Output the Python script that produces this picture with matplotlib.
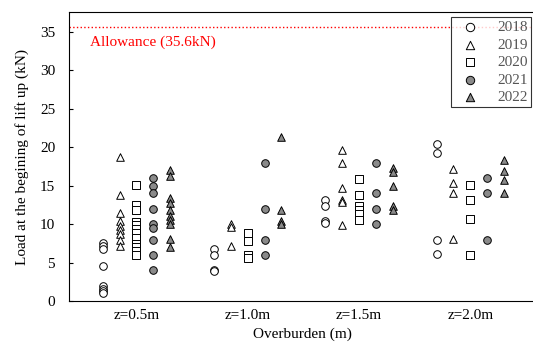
import matplotlib
matplotlib.use("Agg")
import matplotlib.pyplot as plt

plt.rcParams['font.family'] = ['Liberation Serif', 'DejaVu Serif']

groups = ["z=0.5m", "z=1.0m", "z=1.5m", "z=2.0m"]
years = ["2018", "2019", "2020", "2021", "2022"]

# load at beginning of lift up (kN), per year, per overburden depth
y2018 = [[7.6, 7.2, 6.8, 4.6, 2.0, 1.6, 1.3, 1.0],
         [6.8, 6.0, 4.0, 3.9],
         [13.2, 12.3, 10.4, 10.1],
         [20.4, 19.2, 8.0, 6.1]]
y2019 = [[18.7, 13.8, 11.4, 10.4, 9.8, 9.2, 8.7, 8.0, 7.2],
         [10.0, 9.6, 7.2],
         [19.7, 17.9, 14.7, 13.2, 12.9, 9.9],
         [17.2, 15.4, 14.1, 8.1]]
y2020 = [[15.1, 12.5, 11.8, 10.3, 9.9, 9.4, 8.8, 8.2, 7.4, 7.0, 6.5, 6.0],
         [8.9, 7.8, 6.0, 5.6],
         [15.9, 13.8, 12.3, 11.8, 11.3, 10.6],
         [15.1, 13.1, 10.7, 6.0]]
y2021 = [[16.0, 15.0, 14.0, 12.0, 10.0, 9.5, 8.0, 6.0, 4.0],
         [18.0, 12.0, 8.0, 6.0],
         [18.0, 14.0, 12.0, 10.0],
         [16.0, 14.0, 8.0]]
y2022 = [[17.0, 16.2, 13.4, 12.7, 11.8, 11.0, 10.5, 10.0, 8.1, 7.0],
         [21.4, 11.8, 10.4, 10.0],
         [17.3, 16.8, 14.9, 12.4, 11.9],
         [18.4, 16.9, 15.8, 14.0]]
allowance = 35.6

series = [y2018, y2019, y2020, y2021, y2022]
markers = ['o', '^', 's', 'o', '^']
faces = ['white', 'white', 'white', '#8a8a8a', '#8a8a8a']

fig = plt.figure(figsize=(5.33, 3.45), dpi=100)
ax = fig.add_axes([0.1295, 0.1275, 0.876, 0.8377])

for k, data in enumerate(series):
    off = (k - 2) * 0.151
    first = True
    for i, vals in enumerate(data):
        ax.scatter([i + off] * len(vals), vals, marker=markers[k], s=30,
                   facecolor=faces[k], edgecolor='black', linewidth=0.7,
                   label=years[k] if first else None, zorder=3)
        first = False

ax.axhline(allowance, color='red', linestyle=':', linewidth=1.0)
ax.text(-0.418, 33.6, "Allowance (35.6kN)", color='red', fontsize=11, va='center')

ax.set_xlim(-0.606, 3.59)
ax.set_ylim(0, 37.6)
ax.set_xticks(range(len(groups)))
ax.set_xticklabels(groups, fontsize=11)
ax.set_yticks(range(0, 40, 5))
ax.tick_params(axis='y', direction='in', length=3, labelsize=11, pad=10)
ax.tick_params(axis='x', length=0, pad=6)
ax.spines['right'].set_visible(False)

ax.set_xlabel("Overburden (m)", fontsize=11, labelpad=4)
ax.set_ylabel("Load at the begining of lift up (kN)", fontsize=11, labelpad=8)

leg = ax.legend(loc='upper right', fontsize=11, frameon=True, fancybox=False,
                edgecolor='black', handletextpad=0.8, borderpad=0.2,
                labelspacing=0.25, borderaxespad=0.35, markerscale=1.1)
leg.get_frame().set_linewidth(0.8)
for t in leg.get_texts():
    t.set_color('#555555')

fig.savefig("out.png", dpi=100)
